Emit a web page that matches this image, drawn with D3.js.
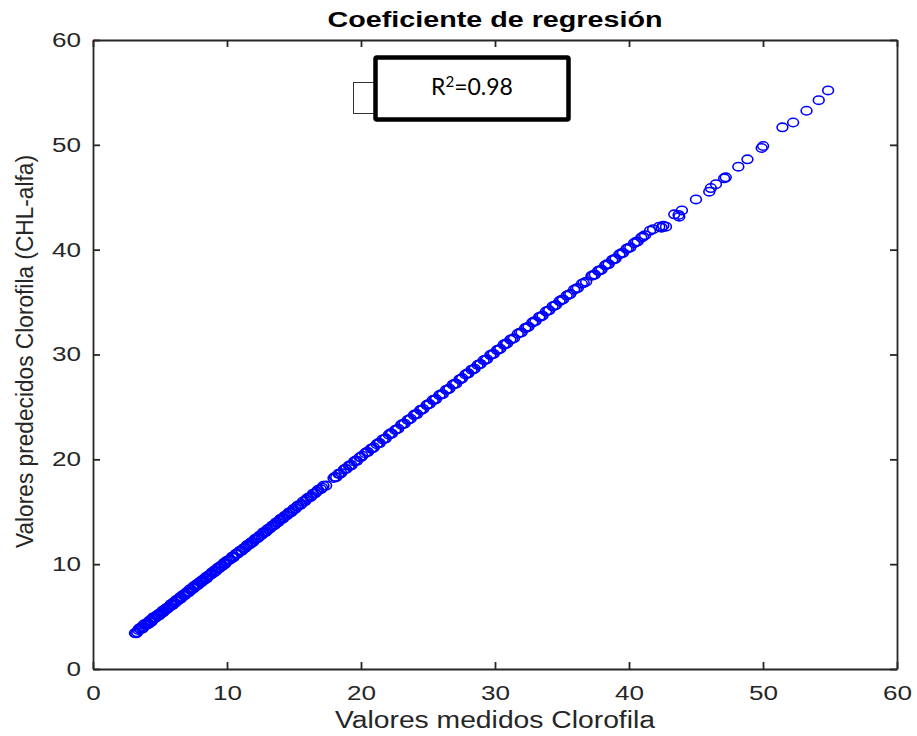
<!DOCTYPE html>
<html>
<head>
<meta charset="utf-8">
<script src="https://cdn.jsdelivr.net/npm/d3@7"></script>
<style>
  html, body { margin: 0; padding: 0; background: #fff; }
  svg { display: block; }
</style>
</head>
<body>
<svg id="chart" width="917" height="736"></svg>
<script>
// Measured chlorophyll (x) and model prediction (y), one pair per sample
const medidos = [
  3.13, 3.22, 3.38, 3.45, 3.55, 3.62, 3.74, 3.81, 3.90, 3.98,
  4.07, 4.15, 4.22, 4.31, 4.40, 4.48, 4.57, 4.66, 4.73, 4.82,
  4.91, 5.02, 5.10, 5.18, 5.27, 5.36, 5.45, 5.53, 5.64, 5.72,
  5.81, 5.90, 6.01, 6.12, 6.20, 6.31, 6.42, 6.50, 6.61, 6.72,
  6.83, 6.91, 7.02, 7.13, 7.22, 7.34, 7.45, 7.53, 7.64, 7.75,
  7.86, 7.97, 8.08, 8.17, 8.29, 8.40, 8.52, 8.61, 8.73, 8.85,
  8.96, 9.07, 9.18, 9.30, 9.41, 9.53, 9.64, 9.76, 9.87, 9.98,
  10.10, 10.24, 10.37, 10.52, 10.66, 10.80, 10.93, 11.08, 11.22, 11.37,
  11.50, 11.66, 11.80, 11.95, 12.10, 12.26, 12.41, 12.57, 12.72, 12.88,
  13.03, 13.19, 13.35, 13.50, 13.66, 13.82, 13.97, 14.13, 14.30, 14.46,
  14.62, 14.78, 14.95, 15.12, 15.30, 15.48, 15.66, 15.84, 16.03, 16.22,
  16.42, 16.60, 16.80, 17.00, 17.20, 17.40, 17.95, 18.15, 18.32, 18.52,
  18.72, 18.90, 19.10, 19.30, 19.50, 19.70, 19.90,
  20.10, 20.30, 20.52, 20.75, 20.96, 21.18, 21.40, 21.62, 21.85, 22.08,
  22.30, 22.55, 22.78, 23.00, 23.25, 23.48, 23.70, 23.95, 24.18, 24.42,
  24.65, 24.90, 25.12, 25.36, 25.60, 25.85, 26.10, 26.35, 26.60, 26.85,
  27.10, 27.35, 27.55, 27.80, 28.02, 28.25, 28.48, 28.70, 28.92, 29.15,
  29.40, 29.65, 29.90,
  30.15, 30.40, 30.65, 30.90, 31.15, 31.42, 31.70, 31.98, 32.25, 32.50,
  32.78, 33.02, 33.30, 33.55, 33.80, 34.05, 34.30, 34.55, 34.82, 35.08,
  35.35, 35.62, 35.90, 36.18, 36.48, 36.80, 37.20, 37.45, 37.70, 37.95,
  38.22, 38.48, 38.75, 39.00, 39.28, 39.55, 39.82, 40.10, 40.38, 40.65,
  40.92, 41.20, 41.57, 41.80,
  42.26, 42.43, 42.56, 42.76, 43.38, 43.70, 43.75, 43.95, 45.00, 45.99,
  46.11, 46.49, 47.10, 47.22, 48.16, 48.84, 49.90, 50.01, 51.45, 52.25,
  53.25, 54.16, 54.86,
  3.30, 3.68, 4.02, 4.35, 4.62, 4.95, 5.22, 5.58, 5.95, 6.25,
  6.55, 6.88, 7.18, 7.50, 7.80, 8.12, 8.45, 8.78, 9.12, 9.45,
  9.80, 10.15, 10.45, 10.75, 11.12, 11.45, 11.75, 12.05, 12.35, 12.65,
  12.95, 13.28, 13.60, 13.92, 14.22, 14.55, 14.88, 15.22, 15.55, 15.92,
  16.30, 16.70, 17.10, 18.05, 18.42, 18.82, 19.20, 19.60, 20.00, 20.42,
  20.85, 21.30, 21.75, 22.20, 22.65, 23.12, 23.60, 24.05, 24.52, 25.00,
  25.48, 25.98, 26.48, 26.98, 27.45, 27.92, 28.38, 28.82, 29.28, 29.78,
  30.28, 30.78, 31.28, 31.85, 32.38, 32.90, 33.42, 33.95, 34.45, 34.95,
  35.50, 36.05, 36.62, 37.32, 37.82, 38.35, 38.88, 39.42, 39.95, 40.52,
  41.05
];
const predichos = [
  3.43, 3.40, 3.73, 3.87, 3.80, 4.00, 3.94, 4.26, 4.21, 4.20,
  4.43, 4.30, 4.62, 4.59, 4.59, 4.92, 4.90, 4.90, 5.10, 5.03,
  5.25, 5.30, 5.32, 5.55, 5.48, 5.70, 5.66, 5.85, 5.92, 5.95,
  6.18, 6.10, 6.35, 6.30, 6.58, 6.52, 6.66, 6.86, 6.83, 7.08,
  7.02, 7.20, 7.35, 7.30, 7.60, 7.55, 7.72, 7.90, 7.86, 8.10,
  8.05, 8.31, 8.27, 8.50, 8.48, 8.75, 8.70, 8.93, 8.95, 9.20,
  9.14, 9.40, 9.36, 9.65, 9.60, 9.85, 9.82, 10.10, 10.05, 10.31,
  10.36, 10.45, 10.70, 10.72, 10.98, 11.00, 11.25, 11.28, 11.50, 11.56,
  11.82, 11.85, 12.10, 12.12, 12.42, 12.45, 12.70, 12.76, 13.05, 13.06,
  13.35, 13.38, 13.66, 13.70, 13.98, 14.00, 14.30, 14.32, 14.60, 14.65,
  14.94, 14.95, 15.26, 15.30, 15.60, 15.66, 15.98, 16.02, 16.33, 16.40,
  16.72, 16.78, 17.10, 17.15, 17.48, 17.50, 18.22, 18.30, 18.62, 18.70,
  19.02, 19.08, 19.40, 19.45, 19.80, 19.86, 20.20,
  20.35, 20.58, 20.70, 21.02, 21.15, 21.45, 21.55, 21.90, 22.00, 22.35,
  22.45, 22.80, 22.92, 23.30, 23.40, 23.75, 23.88, 24.22, 24.32, 24.70,
  24.80, 25.18, 25.28, 25.65, 25.75, 26.12, 26.22, 26.62, 26.75, 27.12,
  27.22, 27.62, 27.75, 28.10, 28.20, 28.55, 28.65, 29.00, 29.10, 29.45,
  29.55, 29.95, 30.05,
  30.42, 30.55, 30.95, 31.05, 31.42, 31.55, 31.98, 32.10, 32.52, 32.65,
  33.05, 33.18, 33.58, 33.70, 34.10, 34.22, 34.60, 34.72, 35.10, 35.25,
  35.62, 35.78, 36.18, 36.35, 36.75, 36.95, 37.50, 37.62, 37.98, 38.10,
  38.50, 38.62, 39.02, 39.15, 39.55, 39.70, 40.08, 40.22, 40.62, 40.78,
  41.15, 41.38, 41.81, 41.95,
  42.19, 42.10, 42.29, 42.19, 43.37, 43.31, 43.15, 43.74, 44.79, 45.53,
  45.88, 46.25, 46.81, 46.90, 47.92, 48.62, 49.70, 49.89, 51.67, 52.13,
  53.25, 54.26, 55.19,
  3.50, 3.85, 4.30, 4.50, 4.85, 5.12, 5.40, 5.78, 6.12, 6.48,
  6.72, 7.10, 7.38, 7.68, 8.00, 8.35, 8.62, 9.00, 9.30, 9.70,
  9.98, 10.42, 10.62, 11.02, 11.30, 11.70, 11.95, 12.32, 12.55, 12.92,
  13.15, 13.52, 13.80, 14.18, 14.42, 14.80, 15.08, 15.48, 15.75, 16.18,
  16.50, 16.95, 17.30, 18.32, 18.60, 19.10, 19.38, 19.88, 20.20, 20.70,
  21.05, 21.55, 21.95, 22.48, 22.85, 23.38, 23.80, 24.30, 24.72, 25.25,
  25.68, 26.22, 26.68, 27.22, 27.65, 28.18, 28.58, 29.05, 29.48, 30.02,
  30.48, 31.02, 31.48, 32.08, 32.58, 33.15, 33.62, 34.18, 34.65, 35.20,
  35.70, 36.28, 36.82, 37.58, 38.02, 38.60, 39.08, 39.65, 40.15, 40.75,
  41.25
];
const xTicks = [0, 10, 20, 30, 40, 50, 60];
const yTicks = [0, 10, 20, 30, 40, 50, 60];
const titulo = "Coeficiente de regresión";
const etiquetaX = "Valores medidos Clorofila";
const etiquetaY = "Valores predecidos Clorofila (CHL-alfa)";
const r2 = 0.98;

const svg = d3.select("#chart");
const plotL = 93, plotR = 897, plotT = 40, plotB = 669;
const x = d3.scaleLinear().domain([0, 60]).range([plotL, plotR]);
const y = d3.scaleLinear().domain([0, 60]).range([plotB, plotT]);

const axisColor = "#262626";
const tickFont = "'Liberation Sans', Arial, Helvetica, sans-serif";
const digitW = 14.5;

function styleAxis(g) {
  g.attr("font-size", null).attr("font-family", null);
  g.select(".domain").attr("stroke", axisColor).attr("stroke-width", 1.8);
  g.selectAll(".tick line").attr("stroke", axisColor).attr("stroke-width", 1.8);
  g.selectAll(".tick text")
    .attr("fill", axisColor)
    .attr("font-size", 20)
    .attr("font-family", tickFont)
    .attr("textLength", d => String(d).length * digitW)
    .attr("lengthAdjust", "spacingAndGlyphs");
}

// bottom axis with labels
svg.append("g")
  .attr("transform", `translate(0,${plotB})`)
  .call(d3.axisBottom(x).tickValues(xTicks).tickSizeInner(-7).tickSizeOuter(0).tickPadding(17))
  .call(styleAxis);

// left axis with labels
svg.append("g")
  .attr("transform", `translate(${plotL},0)`)
  .call(d3.axisLeft(y).tickValues(yTicks).tickSizeInner(-7).tickSizeOuter(0).tickPadding(12))
  .call(styleAxis);

// top and right box edges with inward ticks, no labels
svg.append("g")
  .attr("transform", `translate(0,${plotT})`)
  .call(d3.axisTop(x).tickValues(xTicks).tickSizeInner(-7).tickSizeOuter(0).tickFormat(""))
  .call(styleAxis);
svg.append("g")
  .attr("transform", `translate(${plotR},0)`)
  .call(d3.axisRight(y).tickValues(yTicks).tickSizeInner(-7).tickSizeOuter(0).tickFormat(""))
  .call(styleAxis);

// scatter markers
svg.append("g")
  .selectAll("ellipse")
  .data(d3.zip(medidos, predichos))
  .join("ellipse")
  .attr("cx", d => x(d[0]))
  .attr("cy", d => y(d[1]))
  .attr("rx", 5.4)
  .attr("ry", 4.2)
  .attr("fill", "none")
  .attr("stroke", "#0000ff")
  .attr("stroke-width", 1.6);

// title
svg.append("text")
  .attr("x", (plotL + plotR) / 2)
  .attr("y", 27)
  .attr("text-anchor", "middle")
  .attr("font-family", tickFont)
  .attr("font-weight", "bold")
  .attr("font-size", 22)
  .attr("textLength", 335)
  .attr("lengthAdjust", "spacingAndGlyphs")
  .attr("fill", "#000")
  .text(titulo);

// axis labels
svg.append("text")
  .attr("x", (plotL + plotR) / 2)
  .attr("y", 728)
  .attr("text-anchor", "middle")
  .attr("font-family", tickFont)
  .attr("font-size", 23)
  .attr("textLength", 320)
  .attr("lengthAdjust", "spacingAndGlyphs")
  .attr("fill", axisColor)
  .text(etiquetaX);

svg.append("text")
  .attr("transform", `translate(33,${(155 + 548) / 2}) rotate(-90)`)
  .attr("text-anchor", "middle")
  .attr("font-family", tickFont)
  .attr("font-size", 23)
  .attr("textLength", 393)
  .attr("lengthAdjust", "spacingAndGlyphs")
  .attr("fill", axisColor)
  .text(etiquetaY);

// R² annotation box
const note = svg.append("g");
note.append("rect")
  .attr("x", 353.5).attr("y", 82.5).attr("width", 22).attr("height", 31)
  .attr("fill", "none").attr("stroke", "#333").attr("stroke-width", 1);
note.append("rect")
  .attr("x", 375.5).attr("y", 57.5).attr("width", 193).attr("height", 62)
  .attr("rx", 1.5)
  .attr("fill", "#fff").attr("stroke", "#000").attr("stroke-width", 4.5);
const rt = note.append("text")
  .attr("x", 431).attr("y", 95)
  .attr("font-family", "Lato, 'Open Sans', sans-serif")
  .attr("font-size", 23)
  .attr("fill", "#000");
rt.append("tspan").text("R");
rt.append("tspan").attr("font-size", 15).attr("dy", -8).text("2");
rt.append("tspan").attr("dy", 8).text("=" + r2.toFixed(2));
</script>
</body>
</html>
